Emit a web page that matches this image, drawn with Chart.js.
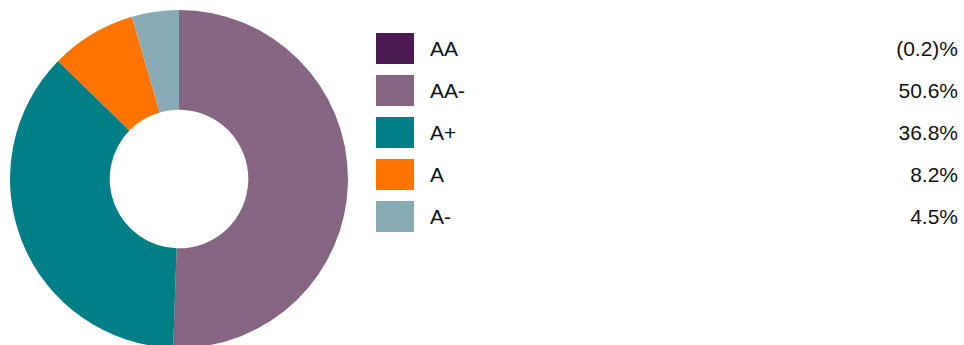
<!DOCTYPE html>
<html>
<head>
<meta charset="utf-8">
<script src="https://cdn.jsdelivr.net/npm/chart.js@4"></script>
<style>
  html, body { margin: 0; padding: 0; background: #fff; overflow: hidden; }
  body { width: 964px; height: 345px; position: relative; font-family: "Liberation Sans", Arial, sans-serif; }
  #wrap { position: absolute; left: 10px; top: 10px; width: 338px; height: 338px; }
  #legend { position: absolute; left: 376px; top: 33px; width: 582px; }
  .row { position: relative; height: 31px; margin-bottom: 11px; }
  .sw { position: absolute; left: 0; top: 0; width: 38px; height: 31px; }
  .lbl { position: absolute; left: 54px; top: 0; line-height: 31px; font-size: 21px; color: #111; }
  .val { position: absolute; right: 0; top: 0; line-height: 31px; font-size: 21px; color: #111; }
</style>
</head>
<body>
<div id="wrap"><canvas id="ratings"></canvas></div>
<div id="legend"></div>
<script>
const ratingLabels = ["AA", "AA-", "A+", "A", "A-"];
const ratingShares = [-0.2, 50.6, 36.8, 8.2, 4.5];
const ratingColors = ["#4B1A52", "#866583", "#007F86", "#FF7300", "#89ABB5"];

document.addEventListener("DOMContentLoaded", () => {
    // Legend on the right, built from the same arrays
    const legend = document.getElementById("legend");
    ratingLabels.forEach((label, i) => {
        const v = ratingShares[i];
        const row = document.createElement("div");
        row.className = "row";
        const text = v < 0 ? `(${Math.abs(v).toFixed(1)})%` : `${v.toFixed(1)}%`;
        row.innerHTML = `<div class="sw" style="background:${ratingColors[i]}"></div>` +
            `<div class="lbl">${label}</div><div class="val">${text}</div>`;
        legend.appendChild(row);
    });

    // Negative share has no slice
    new Chart(document.getElementById("ratings").getContext("2d"), {
        type: "doughnut",
        data: {
            labels: ratingLabels,
            datasets: [{
                data: ratingShares.map(v => Math.max(v, 0)),
                backgroundColor: ratingColors,
                borderWidth: 0
            }]
        },
        options: {
            responsive: true,
            maintainAspectRatio: false,
            animation: false,
            cutout: "41%",
            layout: { padding: 0 },
            plugins: {
                legend: { display: false },
                tooltip: { enabled: false }
            }
        }
    });
});
</script>
</body>
</html>
